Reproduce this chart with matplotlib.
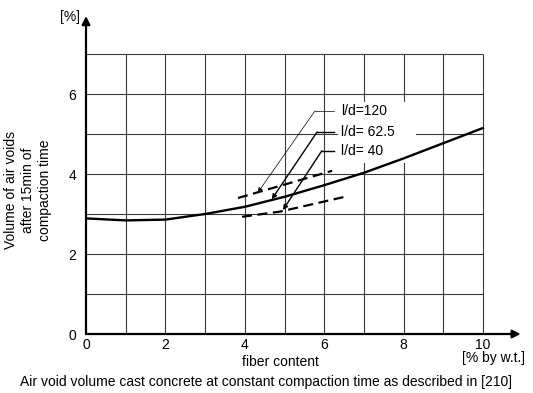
import matplotlib.pyplot as plt
from matplotlib.patches import Rectangle

plt.rcParams['font.family'] = ['Liberation Sans', 'DejaVu Sans']

# data
fiber = [0, 1, 2, 3, 4, 5, 6, 7, 8, 9, 10]
voids_62 = [2.89, 2.84, 2.86, 3.0, 3.18, 3.43, 3.72, 4.03, 4.39, 4.77, 5.15]
fiber_120 = [3.83, 6.2]
voids_120 = [3.40, 4.08]
fiber_40 = [3.93, 4.89, 6.52]
voids_40 = [2.93, 3.06, 3.43]
xticks = [0, 2, 4, 6, 8, 10]
yticks = [0, 2, 4, 6]
labels = ['l/d=120', 'l/d= 62.5', 'l/d= 40']

fs = 10

fig = plt.figure(figsize=(5.33, 3.93), dpi=100)
ax = fig.add_axes([86 / 533, 59 / 393, 436.7 / 533, 320 / 393])
ax.set_xlim(0, 11)
ax.set_ylim(0, 8)
for s in ax.spines.values():
    s.set_visible(False)

# grid only inside 0..10 x 0..7
grid_col = '#3a3a3a'
ax.vlines(range(1, 11), 0, 7, color=grid_col, linewidth=0.8, zorder=1)
ax.hlines(range(1, 8), 0, 10, color=grid_col, linewidth=0.8, zorder=1)

# white box behind labels
ax.add_patch(Rectangle((6.35, 4.28), 1.95, 1.52, facecolor='white',
                       edgecolor='none', zorder=2))

# axes with arrows
arrow = dict(arrowstyle='-|>', color='black', linewidth=1.6,
             mutation_scale=12, shrinkA=0, shrinkB=0)
ax.annotate('', xy=(0, 7.95), xytext=(0, 0), arrowprops=arrow, zorder=5)
ax.annotate('', xy=(10.95, 0), xytext=(0, 0), arrowprops=arrow, zorder=5)

# curves
ax.plot(fiber, voids_62, '-', color='black', linewidth=1.7, zorder=4)
ax.plot(fiber_120, voids_120, color='black', linewidth=1.6,
        dashes=(4.5, 2.5), zorder=4)
ax.plot(fiber_40, voids_40, color='black', linewidth=1.6,
        dashes=(4.5, 2.5), zorder=4)

# labels with leaders
text_y = [5.58, 5.05, 4.58]
knee_x = [5.77, 5.82, 5.94]
tips = [(4.33, 3.54), (4.68, 3.37), (4.96, 3.10)]
widths = [0.5, 1.0, 1.0]
for lab, ty, kx, tip, lw in zip(labels, text_y, knee_x, tips, widths):
    ax.text(6.43, ty, lab, fontsize=fs, va='center', ha='left', zorder=6)
    ax.plot([kx, 6.24], [ty, ty], color='black', linewidth=lw, zorder=6)
    ax.annotate('', xy=tip, xytext=(kx, ty), zorder=6,
                arrowprops=dict(arrowstyle='-|>', color='black', linewidth=lw,
                                mutation_scale=7, shrinkA=0, shrinkB=0))

ax.set_xticks(xticks)
ax.set_yticks(yticks)
ax.tick_params(length=0, labelsize=fs)
ax.tick_params(axis='x', pad=3)
ax.tick_params(axis='y', pad=7)

fig.text(70 / 533, 1 - 17 / 393, '[%]', fontsize=fs, ha='center', va='center')
fig.text(493 / 533, 1 - 358 / 393, '[% by w.t.]', fontsize=fs,
         ha='center', va='center')
fig.text(280 / 533, 1 - 362 / 393, 'fiber content', fontsize=fs,
         ha='center', va='center')
fig.text(266 / 533, 1 - 382 / 393,
         'Air void volume cast concrete at constant compaction time as described in [210]',
         fontsize=fs, ha='center', va='center')
fig.text(28 / 533, 1 - 190 / 393,
         'Volume of air voids\nafter 15min of\ncompaction time',
         fontsize=fs, rotation=90, ha='center', va='center',
         multialignment='center', linespacing=1.3)

fig.savefig('out.png', dpi=100)
